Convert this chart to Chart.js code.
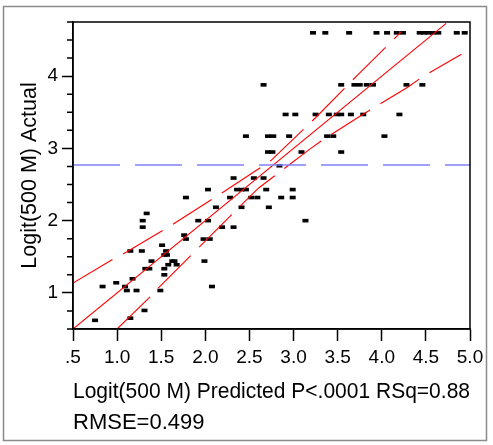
<!DOCTYPE html>
<html>
<head>
<meta charset="utf-8">
<script src="https://cdn.jsdelivr.net/npm/chart.js@4.4.1/dist/chart.umd.min.js"></script>
<style>
  html, body { margin: 0; padding: 0; background: #fff; }
  #wrap { width: 493px; height: 445px; }
</style>
</head>
<body>
<div id="wrap"><canvas id="myChart" width="493" height="445"></canvas></div>
<script>
/* global Chart */
// points: predicted (x) and actual (y)
const predicted = [
  3.22, 3.36, 3.63, 3.94, 4.06, 4.17, 4.24, 4.43, 4.48, 4.53, 4.58, 4.64, 4.85, 4.94,
  2.66, 3.54, 3.69, 3.75, 3.83, 3.90, 4.28, 4.46,
  2.91, 3.02, 3.25, 3.40, 3.49, 3.54, 3.65, 3.79, 4.20,
  2.46, 2.71, 2.77, 2.95, 3.38, 3.45, 4.03,
  2.71, 2.76, 3.09, 3.54,
  2.84,
  2.32, 2.55, 2.66,
  2.03, 2.36, 2.41, 2.46, 2.69, 2.99,
  1.78, 2.28, 2.52, 2.59, 2.86, 2.99,
  2.12, 2.41, 2.72,
  1.335,
  1.29, 1.92, 2.03, 3.135,
  1.29, 2.19, 2.32,
  1.76,
  1.78, 1.98, 2.05,
  1.51,
  1.15, 1.28, 1.555,
  1.535, 1.565,
  1.39, 1.625, 1.65, 1.99,
  1.58, 1.675,
  1.32, 1.365, 1.535,
  1.535,
  1.175,
  0.99,
  0.835, 1.09, 2.075,
  1.11, 1.22, 1.49,
  1.31,
  1.15,
  0.75,
];
const actual = [
  4.6, 4.6, 4.6, 4.6, 4.6, 4.6, 4.6, 4.6, 4.6, 4.6, 4.6, 4.6, 4.6, 4.6,
  3.88, 3.88, 3.88, 3.88, 3.88, 3.88, 3.88, 3.88,
  3.47, 3.47, 3.47, 3.47, 3.47, 3.47, 3.47, 3.47, 3.47,
  3.17, 3.17, 3.17, 3.17, 3.17, 3.17, 3.17,
  2.95, 2.95, 2.95, 2.95,
  2.76,
  2.59, 2.59, 2.59,
  2.43, 2.43, 2.43, 2.43, 2.43, 2.43,
  2.32, 2.32, 2.32, 2.32, 2.32, 2.32,
  2.185, 2.185, 2.185,
  2.10,
  2.0, 2.0, 2.0, 2.0,
  1.91, 1.91, 1.91,
  1.80,
  1.745, 1.745, 1.745,
  1.66,
  1.58, 1.58, 1.58,
  1.525, 1.525,
  1.44, 1.44, 1.44, 1.44,
  1.39, 1.39,
  1.335, 1.335, 1.335,
  1.25,
  1.195,
  1.14,
  1.088, 1.088, 1.088,
  1.033, 1.033, 1.033,
  0.757,
  0.65,
  0.62,
];

// fit line and confidence curves
const fitX = [0.5, 4.73];
const fitY = [0.5, 4.73];
const upperX = [0.5, 0.953, 1.097, 1.62, 2.209, 2.654, 2.749, 3.252, 3.731, 4.223];
const upperY = [1.135, 1.467, 1.558, 1.94, 2.401, 2.756, 2.838, 3.428, 4.023, 4.616];
const lowerX = [1.0, 1.359, 1.483, 2.001, 2.503, 2.609, 3.184, 3.328, 3.77, 4.298, 4.45, 4.903];
const lowerY = [0.5, 0.928, 1.088, 1.72, 2.332, 2.456, 2.99, 3.115, 3.46, 3.851, 3.982, 4.304];
const meanX = [0.5, 5.0];
const meanY = [2.77, 2.77];

// axes
const xTickValues = [0.5, 1.0, 1.5, 2.0, 2.5, 3.0, 3.5, 4.0, 4.5, 5.0];
const xTickLabels = ['.5', '1.0', '1.5', '2.0', '2.5', '3.0', '3.5', '4.0', '4.5', '5.0'];
const yTickValues = [1, 2, 3, 4];
const yTickLabels = ['1', '2', '3', '4'];
const yMinorTicks = [0.5, 0.75, 1.25, 1.5, 1.75, 2.25, 2.5, 2.75, 3.25, 3.5, 3.75, 4.25, 4.5, 4.75];
const xTitle = ['Logit(500 M) Predicted P<.0001 RSq=0.88', 'RMSE=0.499'];
const yTitle = 'Logit(500 M) Actual';

const FONT = "'Liberation Sans', Arial, Helvetica, sans-serif";
Chart.defaults.font.family = FONT;
Chart.defaults.color = '#000';

const toXY = function (xs, ys) {
  return xs.map(function (x, i) {
    return { x: x, y: ys[i] };
  });
};

const framePlugin = {
  id: 'frame',
  beforeDraw(chart) {
    const ctx = chart.ctx;
    ctx.save();
    ctx.fillStyle = '#fff';
    ctx.fillRect(0, 0, chart.width, chart.height);
    ctx.strokeStyle = '#8a8a8a';
    ctx.lineWidth = 1.5;
    ctx.strokeRect(3.5, 6.5, 483, 434);
    ctx.restore();
  },
  afterDraw(chart) {
    const ctx = chart.ctx;
    const a = chart.chartArea;
    const y = chart.scales.y;
    ctx.save();
    ctx.strokeStyle = '#000';
    ctx.lineWidth = 1.5;
    ctx.strokeRect(a.left, a.top, a.right - a.left, a.bottom - a.top);
    /* short minor ticks on the y axis */
    ctx.beginPath();
    yMinorTicks.forEach(function (v) {
      const py = y.getPixelForValue(v);
      ctx.moveTo(a.left - 6, py);
      ctx.lineTo(a.left, py);
    });
    ctx.stroke();
    ctx.restore();
  },
};

const lineSet = function (xs, ys, color, width, dash, order) {
  return {
    data: toXY(xs, ys),
    showLine: true,
    borderColor: color,
    borderWidth: width,
    borderDash: dash,
    pointRadius: 0,
    tension: 0,
    order: order,
  };
};

const ctx = document.getElementById('myChart').getContext('2d');

// eslint-disable-next-line
const chart = new Chart(ctx, {
  type: 'scatter',
  data: {
    datasets: [
      lineSet(meanX, meanY, '#8080ff', 1.6, [47, 15], 1),
      lineSet(fitX, fitY, '#ff0000', 1.1, [], 1),
      lineSet(upperX, upperY, '#ff0000', 1.1, [46, 12], 1),
      lineSet(lowerX, lowerY, '#ff0000', 1.1, [46, 12], 1),
      {
        data: toXY(predicted, actual),
        showLine: false,
        pointStyle: 'line',
        pointRadius: 3,
        pointBorderWidth: 3.6,
        pointBorderColor: '#000',
        pointBackgroundColor: '#000',
        order: 2,
      },
    ],
  },
  options: {
    responsive: false,
    animation: false,
    events: [],
    layout: { padding: { top: 22, right: 23, left: 0, bottom: 0 } },
    plugins: {
      legend: { display: false },
      tooltip: { enabled: false },
    },
    scales: {
      x: {
        type: 'linear',
        min: 0.5,
        max: 5.0,
        afterBuildTicks(s) {
          s.ticks = xTickValues.map(function (v) {
            return { value: v };
          });
        },
        afterFit(s) {
          s.height = 116;
          s.paddingLeft = 0;
          s.paddingRight = 0;
        },
        grid: {
          drawOnChartArea: false,
          tickLength: 12,
          tickColor: '#000',
          tickWidth: 1.5,
        },
        border: { display: true, color: '#000', width: 1.5 },
        ticks: {
          autoSkip: false,
          maxRotation: 0,
          padding: 5,
          font: { size: 19 },
          callback: function (v, i) {
            return xTickLabels[i];
          },
        },
        title: {
          display: true,
          text: xTitle,
          align: 'start',
          font: { size: 22, lineHeight: 1.41 },
          padding: { top: 0, bottom: 6.5 },
        },
      },
      y: {
        type: 'linear',
        min: 0.5,
        max: 4.75,
        afterBuildTicks(s) {
          s.ticks = yTickValues.map(function (v) {
            return { value: v };
          });
        },
        afterFit(s) {
          s.width = 73;
          s.paddingTop = 0;
          s.paddingBottom = 0;
        },
        grid: {
          drawOnChartArea: false,
          tickLength: 11,
          tickColor: '#000',
          tickWidth: 1.5,
        },
        border: { display: true, color: '#000', width: 1.5 },
        ticks: {
          padding: 4,
          font: { size: 19 },
          callback: function (v, i) {
            return yTickLabels[i];
          },
        },
        title: {
          display: true,
          text: yTitle,
          font: { size: 21.5, lineHeight: 1.2 },
          padding: { top: 17, bottom: 0 },
        },
      },
    },
  },
  plugins: [framePlugin],
});
</script>
</body>
</html>
